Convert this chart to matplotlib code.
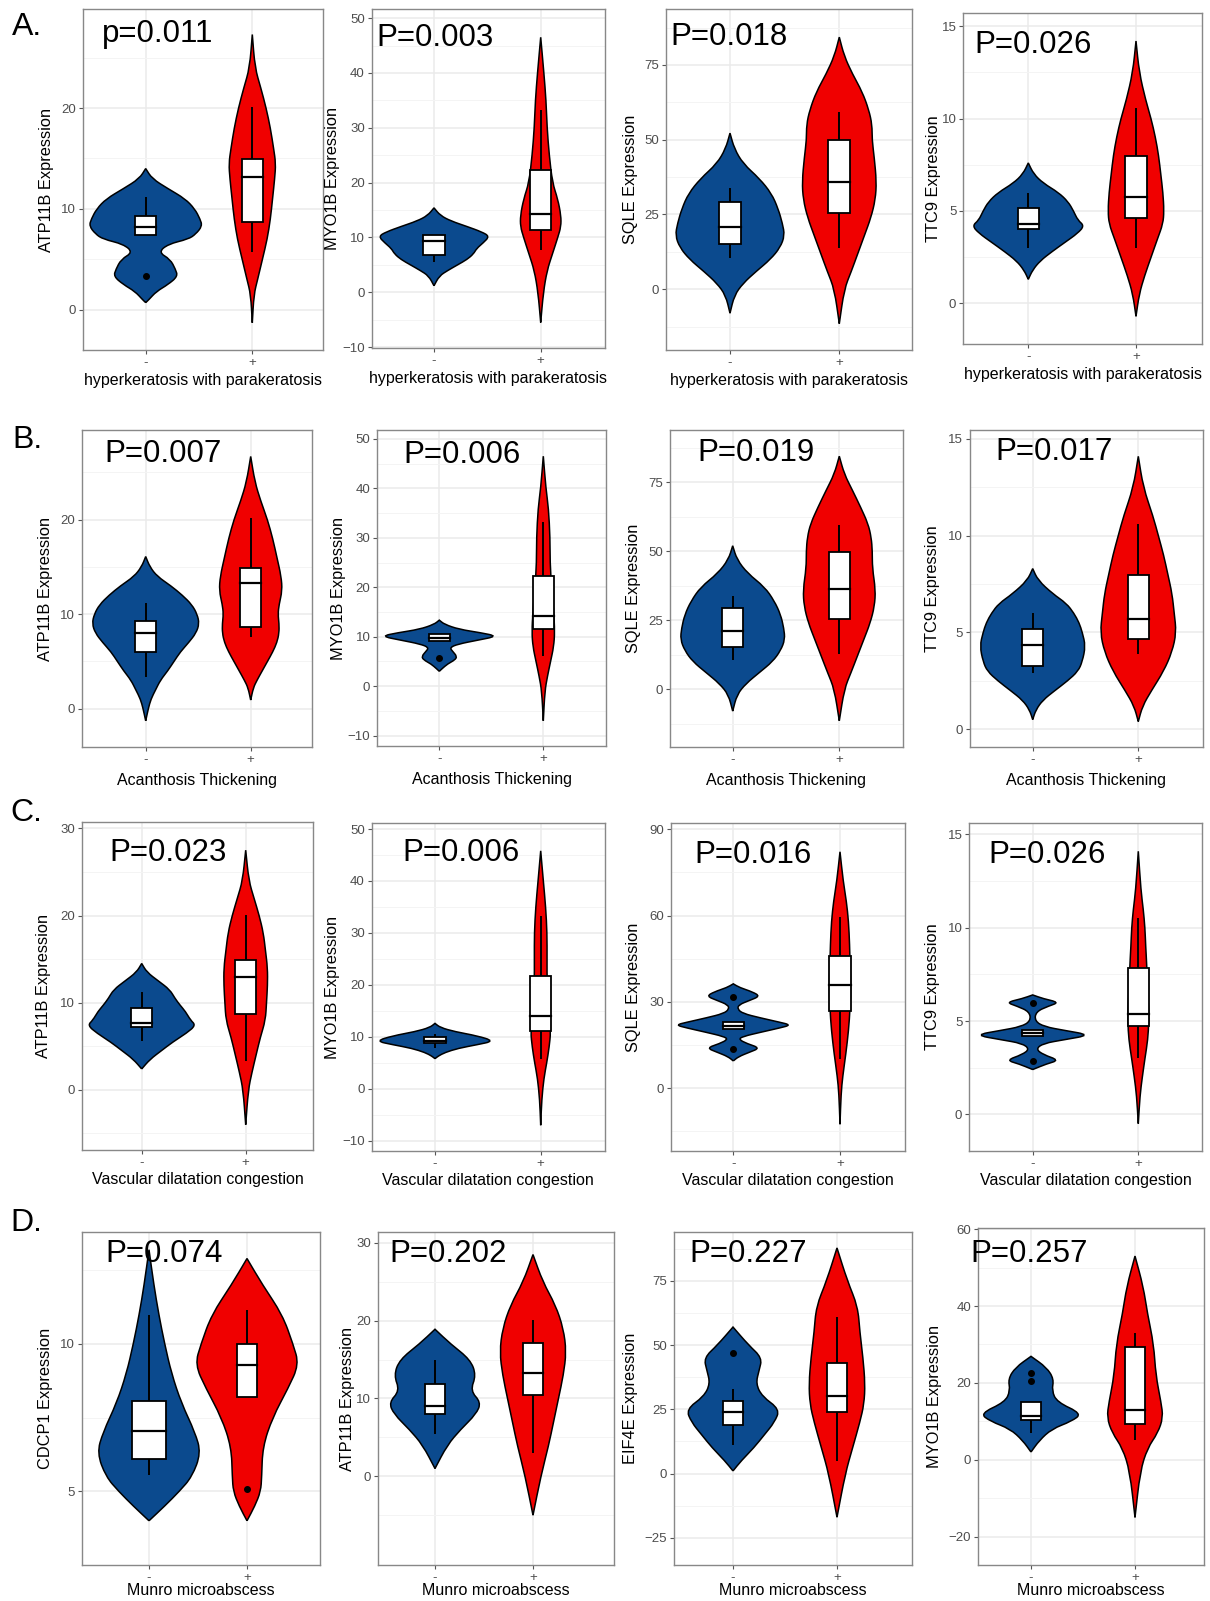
import numpy as np
import matplotlib.pyplot as plt
from matplotlib.path import Path
from matplotlib.patches import PathPatch, Rectangle

plt.rcParams['font.family'] = ['Liberation Sans', 'DejaVu Sans']

W, H = 1210, 1601
BLUE = '#0B4A8E'
RED = '#F00000'
PFONT = ['Liberation Sans Narrow', 'Liberation Sans', 'DejaVu Sans']

row_letters = ['A.', 'B.', 'C.', 'D.']
x_titles = ['hyperkeratosis with parakeratosis', 'Acanthosis Thickening',
            'Vascular dilatation congestion', 'Munro microabscess']
genes = [['ATP11B', 'MYO1B', 'SQLE', 'TTC9'],
         ['ATP11B', 'MYO1B', 'SQLE', 'TTC9'],
         ['ATP11B', 'MYO1B', 'SQLE', 'TTC9'],
         ['CDCP1', 'ATP11B', 'EIF4E', 'MYO1B']]
pvals = [['p=0.011', 'P=0.003', 'P=0.018', 'P=0.026'],
         ['P=0.007', 'P=0.006', 'P=0.019', 'P=0.017'],
         ['P=0.023', 'P=0.006', 'P=0.016', 'P=0.026'],
         ['P=0.074', 'P=0.202', 'P=0.227', 'P=0.257']]
yticks = [[[0, 10, 20], [-10, 0, 10, 20, 30, 40, 50], [0, 25, 50, 75], [0, 5, 10, 15]],
          [[0, 10, 20], [-10, 0, 10, 20, 30, 40, 50], [0, 25, 50, 75], [0, 5, 10, 15]],
          [[0, 10, 20, 30], [-10, 0, 10, 20, 30, 40, 50], [0, 30, 60, 90], [0, 5, 10, 15]],
          [[5, 10], [0, 10, 20, 30], [-25, 0, 25, 50, 75], [-20, 0, 20, 40, 60]]]
ylims = [[(-4.0, 29.8), (-10.2, 51.6), (-20.3, 93.6), (-2.2, 15.7)],
         [(-4.1, 29.5), (-12.1, 51.8), (-20.9, 94.0), (-0.9, 15.46)],
         [(-6.9, 30.7), (-11.9, 51.1), (-21.7, 92.1), (-1.95, 15.6)],
         [(2.5, 13.8), (-11.4, 31.4), (-35.6, 94.0), (-27.4, 60.3)]]

# violin outlines: y values and half widths (x units), "-" group and "+" group
A1_neg_y = [0.7, 1.0, 1.8, 2.5, 3.3, 4.0, 5.0, 5.7, 6.5, 7.0, 7.5, 8.3, 9.0, 10.0, 11.0, 12.0, 13.0, 14.0]
A1_neg_w = [0, 0.03, 0.10, 0.21, 0.30, 0.28, 0.23, 0.12, 0.21, 0.40, 0.47, 0.53, 0.51, 0.46, 0.37, 0.21, 0.06, 0]
A1_pos_y = [-1.3, 1.5, 3, 5, 7, 9, 11, 13, 14.5, 16, 18, 20, 22, 24, 27.3]
A1_pos_w = [0, 0.015, 0.05, 0.095, 0.14, 0.17, 0.19, 0.21, 0.22, 0.20, 0.17, 0.13, 0.08, 0.025, 0]
A2_neg_y = [1.2, 3, 4, 5, 6, 7, 8, 9, 10.2, 11, 12, 13, 14, 15.4]
A2_neg_w = [0, 0.05, 0.13, 0.22, 0.31, 0.37, 0.40, 0.46, 0.52, 0.45, 0.31, 0.16, 0.06, 0]
A2_pos_y = [-5.5, 0, 4, 7, 10, 12, 14, 17, 20, 25, 30, 35, 40, 46.5]
A2_pos_w = [0, 0.025, 0.06, 0.11, 0.16, 0.19, 0.19, 0.16, 0.11, 0.08, 0.06, 0.05, 0.03, 0]
A3_neg_y = [-8, -2, 2, 6, 10, 14, 18, 22, 27, 32, 37, 42, 47, 52.2]
A3_neg_w = [0, 0.04, 0.12, 0.24, 0.37, 0.46, 0.50, 0.48, 0.44, 0.38, 0.27, 0.12, 0.04, 0]
A3_pos_y = [-11.5, 0, 6, 12, 18, 24, 30, 36, 44, 50, 55, 60, 66, 72, 78, 84.3]
A3_pos_w = [0, 0.045, 0.11, 0.17, 0.23, 0.29, 0.33, 0.34, 0.32, 0.30, 0.30, 0.27, 0.21, 0.12, 0.045, 0]
A4_neg_y = [1.3, 1.8, 2.3, 2.8, 3.3, 3.8, 4.2, 4.5, 5.0, 5.5, 6.0, 6.5, 7.0, 7.6]
A4_neg_w = [0, 0.04, 0.11, 0.22, 0.34, 0.46, 0.52, 0.46, 0.42, 0.37, 0.28, 0.14, 0.05, 0]
A4_pos_y = [-0.7, 0.5, 1.5, 2.5, 3.5, 4.3, 5, 6, 7, 8, 9, 10, 11, 12.5, 14.2]
A4_pos_w = [0, 0.03, 0.08, 0.14, 0.20, 0.25, 0.26, 0.25, 0.23, 0.21, 0.18, 0.14, 0.09, 0.03, 0]

B1_neg_y = [-1.3, 0, 1, 2, 3, 4, 5, 6, 7, 8, 9, 10, 11, 12, 13, 14, 15, 16.1]
B1_neg_w = [0, 0.025, 0.05, 0.095, 0.14, 0.21, 0.27, 0.33, 0.41, 0.48, 0.51, 0.49, 0.44, 0.35, 0.24, 0.11, 0.04, 0]
B1_pos_y = [0.9, 2.2, 3, 4, 5, 6, 7, 8, 9, 10, 11, 12.5, 14, 16, 18, 20, 22, 24, 26.7]
B1_pos_w = [0, 0.025, 0.06, 0.11, 0.16, 0.21, 0.25, 0.27, 0.27, 0.26, 0.27, 0.30, 0.29, 0.25, 0.21, 0.16, 0.095, 0.04, 0]
B2_neg_y = [3.0, 3.5, 4.5, 5.3, 6, 7, 7.8, 8.5, 9.3, 10.1, 10.8, 11.5, 12.5, 13.35]
B2_neg_w = [0, 0.025, 0.08, 0.15, 0.17, 0.13, 0.10, 0.18, 0.37, 0.56, 0.40, 0.19, 0.05, 0]
B2_pos_y = [-7, -1, 2, 5, 8, 11, 15, 20, 25, 30, 36, 40, 46.5]
B2_pos_w = [0, 0.015, 0.04, 0.07, 0.10, 0.11, 0.10, 0.08, 0.065, 0.065, 0.05, 0.025, 0]
B3_neg_y = [-8, -2, 2, 6, 10, 14, 18, 22, 27, 32, 37, 42, 47, 52]
B3_neg_w = [0, 0.04, 0.125, 0.25, 0.375, 0.45, 0.49, 0.48, 0.45, 0.39, 0.30, 0.14, 0.04, 0]
B3_pos_y = [-11.5, 0, 6, 12, 18, 24, 30, 36, 44, 50, 55, 60, 66, 72, 78, 84.5]
B3_pos_w = [0, 0.047, 0.11, 0.17, 0.23, 0.29, 0.33, 0.34, 0.31, 0.31, 0.30, 0.27, 0.20, 0.125, 0.047, 0]
B4_neg_y = [0.5, 1.0, 1.5, 2.0, 2.5, 3.0, 3.5, 4.3, 5.0, 5.5, 6.0, 6.5, 7.0, 7.7, 8.3]
B4_neg_w = [0, 0.03, 0.095, 0.21, 0.33, 0.43, 0.47, 0.50, 0.47, 0.44, 0.39, 0.32, 0.19, 0.05, 0]
B4_pos_y = [0.4, 1.2, 2, 3, 4, 5, 6, 7, 8, 9, 10, 11, 12.5, 14.1]
B4_pos_w = [0, 0.04, 0.125, 0.24, 0.32, 0.36, 0.34, 0.32, 0.28, 0.24, 0.19, 0.14, 0.047, 0]

C1_neg_y = [2.4, 3.5, 4.5, 5.5, 6.5, 7.4, 8, 9, 9.7, 10.5, 11.5, 12.5, 13.5, 14.5]
C1_neg_w = [0, 0.08, 0.19, 0.30, 0.43, 0.52, 0.47, 0.42, 0.37, 0.32, 0.27, 0.16, 0.05, 0]
C1_pos_y = [-4, 0, 2, 4, 6, 8, 10, 12, 14, 16, 18, 20, 22, 24, 27.5]
C1_pos_w = [0, 0.025, 0.06, 0.10, 0.14, 0.19, 0.20, 0.21, 0.21, 0.19, 0.17, 0.13, 0.08, 0.03, 0]
C2_neg_y = [5.8, 6.3, 7, 7.8, 8.5, 9.2, 10.2, 11, 11.8, 12.6]
C2_neg_w = [0, 0.03, 0.095, 0.22, 0.40, 0.56, 0.40, 0.19, 0.05, 0]
C2_pos_y = [-7, -2, 2, 5, 8, 11, 14, 20, 25, 30, 35, 40, 45.8]
C2_pos_w = [0, 0.01, 0.03, 0.057, 0.08, 0.095, 0.08, 0.06, 0.06, 0.06, 0.047, 0.025, 0]
C3_neg_y = [9.5, 11, 12.5, 14, 15.5, 17, 18, 19.5, 21, 22, 23, 24.5, 26, 27.5, 29, 30.5, 32, 33.5, 35, 36.3]
C3_neg_w = [0, 0.05, 0.15, 0.25, 0.13, 0.05, 0.09, 0.26, 0.44, 0.54, 0.43, 0.25, 0.09, 0.04, 0.05, 0.15, 0.25, 0.18, 0.06, 0]
C3_pos_y = [-12.5, -2, 4, 12, 20, 28, 36, 42, 50, 58, 65, 72, 82.2]
C3_pos_w = [0, 0.01, 0.025, 0.055, 0.08, 0.095, 0.10, 0.095, 0.09, 0.08, 0.06, 0.03, 0]
C4_neg_y = [2.4, 2.7, 2.9, 3.2, 3.5, 3.8, 4.0, 4.25, 4.5, 4.7, 5.0, 5.5, 5.8, 6.0, 6.2, 6.4]
C4_neg_w = [0, 0.13, 0.25, 0.10, 0.03, 0.10, 0.30, 0.55, 0.30, 0.11, 0.02, 0.03, 0.15, 0.25, 0.10, 0]
C4_pos_y = [-0.5, 1, 2, 3, 4, 5, 6, 7, 8, 9, 10, 11, 12, 14.1]
C4_pos_w = [0, 0.016, 0.038, 0.063, 0.09, 0.10, 0.095, 0.085, 0.08, 0.07, 0.063, 0.047, 0.025, 0]

D1_neg_y = [4.0, 4.5, 5, 5.5, 6.3, 7, 8, 9, 10, 11, 12, 13.2]
D1_neg_w = [0, 0.16, 0.31, 0.44, 0.53, 0.47, 0.33, 0.23, 0.16, 0.10, 0.05, 0]
D1_pos_y = [4.0, 4.5, 5, 5.5, 6.5, 7.5, 8.5, 9.3, 10, 11, 12, 12.9]
D1_pos_w = [0, 0.08, 0.14, 0.15, 0.16, 0.26, 0.42, 0.53, 0.47, 0.36, 0.16, 0]
D2_neg_y = [1, 4, 6, 8, 9.5, 11, 13, 15, 17, 18.9]
D2_neg_w = [0, 0.125, 0.26, 0.42, 0.47, 0.36, 0.42, 0.36, 0.16, 0]
D2_pos_y = [-5, 0, 4, 7, 10, 13, 16, 19, 22, 25, 28.5]
D2_pos_w = [0, 0.08, 0.16, 0.21, 0.26, 0.31, 0.34, 0.31, 0.23, 0.10, 0]
D3_neg_y = [1, 5, 10, 15, 20, 25, 30, 35, 40, 45, 50, 57]
D3_neg_w = [0, 0.08, 0.20, 0.30, 0.40, 0.45, 0.28, 0.22, 0.25, 0.28, 0.15, 0]
D3_pos_y = [-17, 0, 10, 20, 27, 35, 45, 55, 65, 75, 87.8]
D3_pos_w = [0, 0.08, 0.15, 0.22, 0.26, 0.27, 0.25, 0.22, 0.20, 0.10, 0]
D4_neg_y = [2, 5, 8, 10, 12, 15, 18, 21, 24, 26.9]
D4_neg_w = [0, 0.08, 0.20, 0.39, 0.49, 0.25, 0.20, 0.22, 0.15, 0]
D4_pos_y = [-15, -3, 3, 7, 11, 15, 22, 30, 38, 45, 53]
D4_pos_w = [0, 0.05, 0.12, 0.22, 0.27, 0.25, 0.20, 0.18, 0.12, 0.08, 0]

# box stats: lower whisker, q1, median, q3, upper whisker
A1_neg_box, A1_neg_out = [7.37, 7.37, 8.17, 9.32, 11.17], [3.37]
A1_pos_box, A1_pos_out = [5.7, 8.69, 13.2, 14.9, 20.1], []
A2_neg_box, A2_neg_out = [5.6, 6.86, 9.4, 10.5, 10.5], []
A2_pos_box, A2_pos_out = [7.8, 11.4, 14.3, 22.3, 33.3], []
A3_neg_box, A3_neg_out = [10.6, 15.05, 20.96, 29.2, 33.8], []
A3_pos_box, A3_pos_out = [13.7, 25.5, 36.0, 49.9, 59.4], []
A4_neg_box, A4_neg_out = [3.0, 4.0, 4.3, 5.17, 5.95], []
A4_pos_box, A4_pos_out = [3.0, 4.63, 5.75, 7.96, 10.6], []
B1_neg_box, B1_neg_out = [3.3, 6.0, 8.04, 9.3, 11.2], []
B1_pos_box, B1_pos_out = [7.6, 8.67, 13.3, 14.9, 20.2], []
B2_neg_box, B2_neg_out = [9.1, 9.1, 9.7, 10.45, 10.45], [5.6]
B2_pos_box, B2_pos_out = [6.2, 11.46, 14.2, 22.3, 33.2], []
B3_neg_box, B3_neg_out = [10.5, 15.2, 21.0, 29.3, 33.9], []
B3_pos_box, B3_pos_out = [12.9, 25.5, 36.3, 49.9, 59.5], []
B4_neg_box, B4_neg_out = [2.9, 3.27, 4.36, 5.18, 6.0], []
B4_pos_box, B4_pos_out = [3.9, 4.65, 5.72, 7.96, 10.6], []
C1_neg_box, C1_neg_out = [5.6, 7.26, 7.64, 9.4, 11.2], []
C1_pos_box, C1_pos_out = [3.36, 8.7, 13.0, 14.9, 20.1], []
C2_neg_box, C2_neg_out = [7.9, 8.8, 9.3, 9.9, 10.5], []
C2_pos_box, C2_pos_out = [5.7, 11.2, 14.0, 21.8, 33.2], []
C3_neg_box, C3_neg_out = [20.5, 20.5, 21.7, 23.05, 23.05], [31.7, 13.7]
C3_pos_box, C3_pos_out = [10.1, 26.9, 35.9, 46.1, 59.7], []
C4_neg_box, C4_neg_out = [4.2, 4.2, 4.35, 4.5, 4.5], [5.96, 2.88]
C4_pos_box, C4_pos_out = [3.0, 4.76, 5.39, 7.84, 10.5], []
D1_neg_box, D1_neg_out = [5.55, 6.1, 7.05, 8.05, 11.0], []
D1_pos_box, D1_pos_out = [8.2, 8.2, 9.3, 10.0, 11.16], [5.07]
D2_neg_box, D2_neg_out = [5.5, 8.0, 9.0, 11.8, 14.9], []
D2_pos_box, D2_pos_out = [3.0, 10.5, 13.3, 17.1, 20.1], []
D3_neg_box, D3_neg_out = [11, 19, 24, 28.1, 33], [47.1]
D3_pos_box, D3_pos_out = [5, 24, 30, 43, 60.8], []
D4_neg_box, D4_neg_out = [7, 10.4, 11.4, 15, 15], [22.6, 20.6]
D4_pos_box, D4_pos_out = [5.1, 9.4, 13, 29.4, 33], []

violins = [
    [(A1_neg_y, A1_neg_w, A1_pos_y, A1_pos_w), (A2_neg_y, A2_neg_w, A2_pos_y, A2_pos_w),
     (A3_neg_y, A3_neg_w, A3_pos_y, A3_pos_w), (A4_neg_y, A4_neg_w, A4_pos_y, A4_pos_w)],
    [(B1_neg_y, B1_neg_w, B1_pos_y, B1_pos_w), (B2_neg_y, B2_neg_w, B2_pos_y, B2_pos_w),
     (B3_neg_y, B3_neg_w, B3_pos_y, B3_pos_w), (B4_neg_y, B4_neg_w, B4_pos_y, B4_pos_w)],
    [(C1_neg_y, C1_neg_w, C1_pos_y, C1_pos_w), (C2_neg_y, C2_neg_w, C2_pos_y, C2_pos_w),
     (C3_neg_y, C3_neg_w, C3_pos_y, C3_pos_w), (C4_neg_y, C4_neg_w, C4_pos_y, C4_pos_w)],
    [(D1_neg_y, D1_neg_w, D1_pos_y, D1_pos_w), (D2_neg_y, D2_neg_w, D2_pos_y, D2_pos_w),
     (D3_neg_y, D3_neg_w, D3_pos_y, D3_pos_w), (D4_neg_y, D4_neg_w, D4_pos_y, D4_pos_w)],
]
boxes = [
    [(A1_neg_box, A1_neg_out, A1_pos_box, A1_pos_out), (A2_neg_box, A2_neg_out, A2_pos_box, A2_pos_out),
     (A3_neg_box, A3_neg_out, A3_pos_box, A3_pos_out), (A4_neg_box, A4_neg_out, A4_pos_box, A4_pos_out)],
    [(B1_neg_box, B1_neg_out, B1_pos_box, B1_pos_out), (B2_neg_box, B2_neg_out, B2_pos_box, B2_pos_out),
     (B3_neg_box, B3_neg_out, B3_pos_box, B3_pos_out), (B4_neg_box, B4_neg_out, B4_pos_box, B4_pos_out)],
    [(C1_neg_box, C1_neg_out, C1_pos_box, C1_pos_out), (C2_neg_box, C2_neg_out, C2_pos_box, C2_pos_out),
     (C3_neg_box, C3_neg_out, C3_pos_box, C3_pos_out), (C4_neg_box, C4_neg_out, C4_pos_box, C4_pos_out)],
    [(D1_neg_box, D1_neg_out, D1_pos_box, D1_pos_out), (D2_neg_box, D2_neg_out, D2_pos_box, D2_pos_out),
     (D3_neg_box, D3_neg_out, D3_pos_box, D3_pos_out), (D4_neg_box, D4_neg_out, D4_pos_box, D4_pos_out)],
]
# box half widths ("-", "+"), x units
box_hw = [[(0.1, 0.1)] * 4, [(0.1, 0.1)] * 4, [(0.1, 0.1)] * 4,
          [(0.17, 0.1), (0.1, 0.1), (0.1, 0.1), (0.1, 0.1)]]

# layout in pixels: frame left, right, top, bottom, "-" tick x, "+" tick x
frames = [
    [(82.7, 323, 9.3, 350, 145.7, 252.3), (371.7, 605, 9.3, 348.3, 434, 540.7),
     (665.7, 912, 9.3, 350, 730, 839.3), (963.3, 1201.7, 13.3, 344, 1028.3, 1136)],
    [(81.7, 311.7, 430, 747.3, 145.7, 250.7), (377.3, 606, 430, 746, 439.3, 543.3),
     (670, 902.7, 430, 746.7, 732.7, 839.3), (970, 1202.7, 430, 746.7, 1032.7, 1138.3)],
    [(81.7, 313.3, 822.3, 1150, 141.7, 245.7), (371.7, 605, 823.3, 1150.7, 435, 540.7),
     (671, 905, 823.3, 1150.7, 733.3, 840), (969.3, 1201.7, 823.3, 1150.7, 1032.7, 1138.3)],
    [(82, 320, 1232, 1565, 149, 247), (378, 614, 1232, 1565, 435, 533),
     (674, 912, 1232, 1565, 733, 837), (978, 1204, 1228, 1565, 1031, 1135)],
]
ylab_off = [[-29, -32, -28, -22], [-29, -31, -29, -30], [-31, -32, -30, -29], [-29, -23, -36, -36]]
xlab_off = [23, 26, 22, 18]
ptext_pos = [[(102, 34), (376, 38), (670, 37), (974, 45)],
             [(104, 454), (403, 455), (697, 453), (995, 452)],
             [(109, 853), (402, 853), (694, 855), (988, 855)],
             [(105, 1254), (389, 1254), (689, 1254), (970, 1254)]]
letter_pos = [(12, 27), (12, 440), (10, 813), (10, 1223)]


def violin(ax, xc, ys, ws, color):
    ys = np.asarray(ys, float)
    ws = np.asarray(ws, float)
    pts = np.concatenate([np.column_stack([xc + ws, ys]),
                          np.column_stack([xc - ws, ys])[::-1]])
    mids = (pts + np.roll(pts, -1, axis=0)) / 2
    verts = [mids[-1]]
    codes = [Path.MOVETO]
    for i in range(len(pts)):
        verts += [pts[i], mids[i]]
        codes += [Path.CURVE3, Path.CURVE3]
    ax.add_patch(PathPatch(Path(verts, codes), fc=color, ec='black', lw=1.1, zorder=2))


def boxplot(ax, xc, stats, out, hw=0.1):
    lo, q1, med, q3, hi = stats
    ax.plot([xc, xc], [q3, hi], color='black', lw=1.4, zorder=3, solid_capstyle='butt')
    ax.plot([xc, xc], [lo, q1], color='black', lw=1.4, zorder=3, solid_capstyle='butt')
    ax.add_patch(Rectangle((xc - hw, q1), 2 * hw, q3 - q1, fc='white', ec='black', lw=1.3, zorder=4))
    ax.plot([xc - hw, xc + hw], [med, med], color='black', lw=1.6, zorder=5)
    if out:
        ax.scatter([xc] * len(out), out, s=16, color='black', zorder=6)


fig = plt.figure(figsize=(W / 100, H / 100), dpi=100)

for r in range(4):
    for c in range(4):
        L, R, T, B, xm, xp = frames[r][c]
        u = xp - xm
        ax = fig.add_axes([L / W, 1 - B / H, (R - L) / W, (B - T) / H])
        ax.set_xlim(1 - (xm - L) / u, 2 + (R - xp) / u)
        ny, nw, py, pw = violins[r][c]
        violin(ax, 1, ny, nw, BLUE)
        violin(ax, 2, py, pw, RED)
        nb, no, pb, po = boxes[r][c]
        hw_n, hw_p = box_hw[r][c]
        boxplot(ax, 1, nb, no, hw_n)
        boxplot(ax, 2, pb, po, hw_p)

        yt = yticks[r][c]
        ax.set_yticks(yt)
        step = yt[1] - yt[0]
        minor = np.arange(yt[0] - step * 1.5, yt[-1] + step, step)
        ax.set_yticks(minor, minor=True)
        ax.set_ylim(*ylims[r][c])
        ax.set_xticks([1, 2])
        ax.set_xticklabels(['-', '+'])
        ax.set_axisbelow(True)
        ax.grid(True, which='major', color='#EBEBEB', lw=1.1)
        ax.grid(True, which='minor', axis='y', color='#F4F4F4', lw=0.7)
        ax.tick_params(which='major', length=3, color='#555555', labelsize=9.5,
                       labelcolor='#4D4D4D', pad=2)
        ax.tick_params(which='minor', length=0)
        for s in ax.spines.values():
            s.set_color('#888888')
            s.set_linewidth(1.0)

        ax.set_ylabel(genes[r][c] + ' Expression', fontsize=11.8, color='black')
        ax.yaxis.set_label_coords(ylab_off[r][c] / (R - L), 0.5)
        ax.set_xlabel(x_titles[r], fontsize=11.5, color='black')
        ax.xaxis.set_label_coords(0.5, -xlab_off[r] / (B - T))

        px, py_ = ptext_pos[r][c]
        fig.text(px / W, 1 - py_ / H, pvals[r][c], fontsize=22.5, family=PFONT,
                 ha='left', va='center')

    lx, ly = letter_pos[r]
    fig.text(lx / W, 1 - ly / H, row_letters[r], fontsize=23, family=PFONT,
             ha='left', va='center')

fig.savefig('out.png', dpi=100)
